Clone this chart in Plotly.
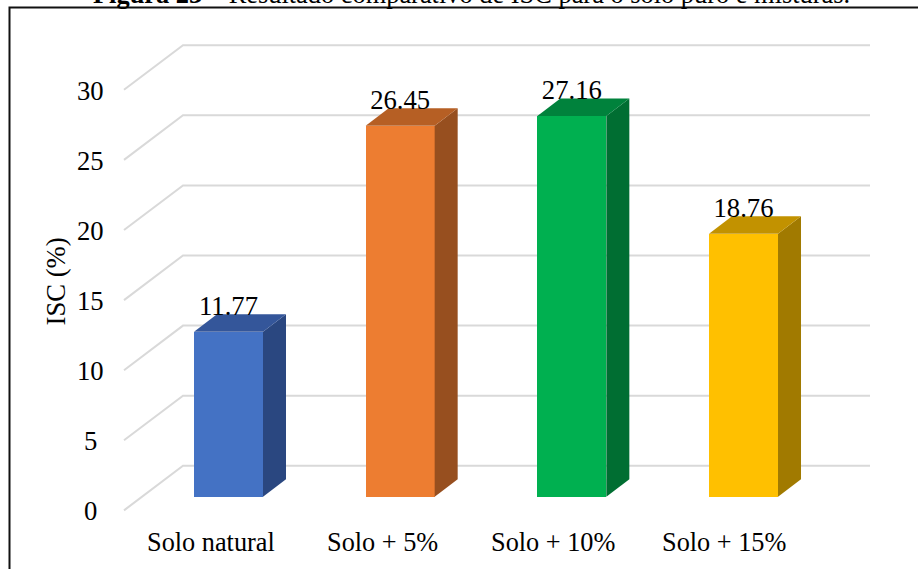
import plotly.graph_objects as go

categories = ["Solo natural", "Solo + 5%", "Solo + 10%", "Solo + 15%"]
isc_values = [11.77, 26.45, 27.16, 18.76]
value_labels = ["11.77", "26.45", "27.16", "18.76"]
front_colors = ["#4472C4", "#ED7D31", "#00B050", "#FFC000"]
top_colors = ["#34569A", "#B65F24", "#00823C", "#C29200"]
side_colors = ["#2A4780", "#974F1F", "#006E32", "#A17A00"]
y_ticks = [0, 5, 10, 15, 20, 25, 30]

WIDTH, HEIGHT = 918, 569
FONT = "Liberation Serif"
FONT_SIZE = 26.67

# Pixel placement of the plot frame on the page
PX_PER_UNIT_Y = 14.02
PX_PER_UNIT_X = 171.67
Y0_PX = 510.4          # value 0 on the front edge of the floor
X0_PX = 228.5          # centre of the first bar


def xp(px):
    return (px - X0_PX) / PX_PER_UNIT_X


def yd(px):
    return px / PX_PER_UNIT_Y


bar_width = 69 / PX_PER_UNIT_X
bar_floor = yd(13.7)
bar_dx, bar_dy = 23 / PX_PER_UNIT_X, yd(17.5)
wall_front, wall_back, wall_right = xp(124), xp(183), xp(870)
wall_rise = yd(44.6)
label_lift = yd(23.4)

fig = go.Figure()

# Perspective gridlines: side wall diagonal, then along the back wall
for t in y_ticks:
    fig.add_trace(go.Scatter(
        x=[wall_front, wall_back, wall_right],
        y=[t, t + wall_rise, t + wall_rise],
        mode="lines", line=dict(color="#D9D9D9", width=2),
        hoverinfo="skip", showlegend=False,
    ))

# Front faces live on an overlaid subplot so they cover the gridlines
fig.add_trace(go.Bar(
    x=list(range(len(categories))), y=isc_values, base=bar_floor,
    width=bar_width, marker=dict(color=front_colors, line=dict(width=0)),
    showlegend=False, xaxis="x2", yaxis="y2",
))

# Bar depth: side face and top face
for i, v in enumerate(isc_values):
    left, right = i - bar_width / 2, i + bar_width / 2
    top = bar_floor + v
    fig.add_trace(go.Scatter(
        x=[right, right + bar_dx, right + bar_dx, right, right],
        y=[bar_floor, bar_floor + bar_dy, top + bar_dy, top, bar_floor],
        mode="lines", fill="toself", fillcolor=side_colors[i],
        line=dict(width=0), hoverinfo="skip", showlegend=False,
        xaxis="x2", yaxis="y2",
    ))
    fig.add_trace(go.Scatter(
        x=[left, right, right + bar_dx, left + bar_dx, left],
        y=[top, top, top + bar_dy, top + bar_dy, top],
        mode="lines", fill="toself", fillcolor=top_colors[i],
        line=dict(width=0), hoverinfo="skip", showlegend=False,
        xaxis="x2", yaxis="y2",
    ))

# Value labels sit above each bar, overlapping the top face
fig.add_trace(go.Scatter(
    x=list(range(len(categories))),
    y=[bar_floor + v + label_lift for v in isc_values],
    mode="text", text=value_labels, textposition="middle center",
    textfont=dict(family=FONT, size=FONT_SIZE, color="#000000"),
    hoverinfo="skip", showlegend=False, xaxis="x2", yaxis="y2",
))

x_range = [xp(0), xp(WIDTH)]
y_range = [yd(Y0_PX - HEIGHT), yd(Y0_PX)]
hidden_axis = dict(domain=[0, 1], tickvals=[], showgrid=False, zeroline=False, showline=False)

fig.update_layout(
    width=WIDTH, height=HEIGHT,
    margin=dict(l=0, r=0, t=0, b=0),
    paper_bgcolor="#FFFFFF", plot_bgcolor="rgba(0,0,0,0)",
    bargap=0, showlegend=False,
    xaxis=dict(range=x_range, **hidden_axis),
    yaxis=dict(range=y_range, **hidden_axis),
    xaxis2=dict(range=x_range, overlaying="x", anchor="y2", **hidden_axis),
    yaxis2=dict(range=y_range, overlaying="y", anchor="x2", **hidden_axis),
    shapes=[
        dict(type="rect", xref="paper", yref="paper",
             x0=9.5 / WIDTH, x1=1.2, y0=-0.2, y1=1 - 7.5 / HEIGHT,
             line=dict(color="#111111", width=2), fillcolor="rgba(0,0,0,0)"),
    ],
)


def page_text(text, x_px, y_px, size, angle=0, anchor="center"):
    fig.add_annotation(
        xref="paper", yref="paper", x=x_px / WIDTH, y=1 - y_px / HEIGHT,
        text=text, showarrow=False, textangle=angle, xanchor=anchor, yanchor="middle",
        font=dict(family=FONT, size=size, color="#000000"),
    )


for t in y_ticks:
    page_text(str(t), 90, Y0_PX - t * PX_PER_UNIT_Y + 0.8, FONT_SIZE)
for i, c in enumerate(categories):
    page_text(c, 211 + i * 171, 542.5, 26.3)

page_text("ISC (%)", 55.5, 282, FONT_SIZE, angle=-90)
page_text("<b>Figura 23</b> – Resultado comparativo de ISC para o solo puro e misturas.",
          471.5, -5.5, 26.4)

fig.write_html("out.html")
